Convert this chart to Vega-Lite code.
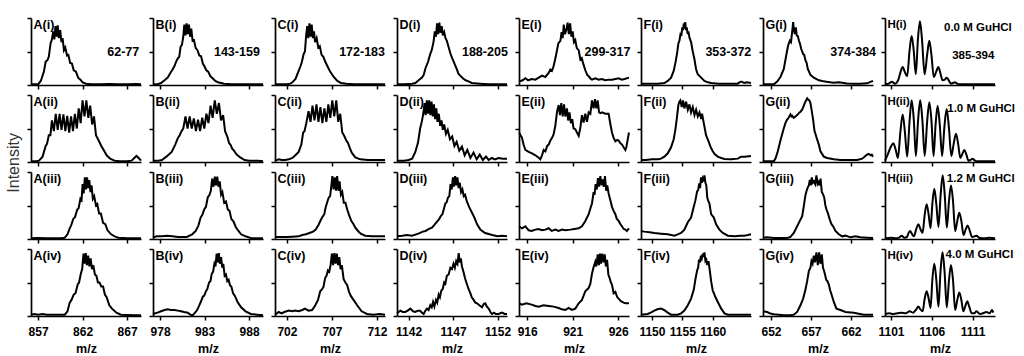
{"$schema":"https://vega.github.io/schema/vega-lite/v6.json","padding":{"left":6,"top":17,"right":2,"bottom":0},"background":"white","title":{"text":"Intensity","orient":"left","anchor":"middle","font":"Liberation Sans","fontSize":16,"fontWeight":"normal","color":"#333","dx":23},"columns":8,"spacing":{"row":10,"column":12},"bounds":"flush",
"config":{"numberFormat":"d","view":{"stroke":null},"axis":{"grid":false,"domainColor":"black","domainWidth":1.7,"tickColor":"black","tickWidth":1.5,"tickSize":4,"labelFont":"Liberation Sans","labelFontWeight":"bold","labelFontSize":12,"labelColor":"black","labelPadding":6,"labelOverlap":false,"labelFlush":false,"titleFont":"Liberation Sans","titleFontWeight":"bold","titleFontSize":12.5,"titleColor":"black","titlePadding":5},"line":{"color":"black","strokeWidth":2,"clip":true},"text":{"font":"Liberation Sans","fontWeight":"bold","fontSize":12.5,"align":"left","baseline":"middle","color":"black"}},
"datasets":{
"L":[{"p":"A1","x":856.48,"y":90,"t":"A(i)"},{"p":"A1","x":864.77,"y":49,"t":"62-77"},{"p":"B1","x":977.48,"y":90,"t":"B(i)"},{"p":"B1","x":984.05,"y":49,"t":"143-159"},{"p":"C1","x":700.95,"y":90,"t":"C(i)"},{"p":"C1","x":707.8,"y":49,"t":"172-183"},{"p":"D1","x":1140.98,"y":90,"t":"D(i)"},{"p":"D1","x":1148.0,"y":49,"t":"188-205"},{"p":"E1","x":915.37,"y":90,"t":"E(i)"},{"p":"E1","x":922.3,"y":49,"t":"299-317"},{"p":"F1","x":1148.61,"y":90,"t":"F(i)"},{"p":"F1","x":1158.8,"y":49,"t":"353-372"},{"p":"G1","x":651.31,"y":90,"t":"G(i)"},{"p":"G1","x":659.4,"y":49,"t":"374-384"},{"p":"H1","x":1100.56,"y":90,"t":"H(i)"},{"p":"H1","x":1107.5,"y":85,"t":"0.0 M GuHCl"},{"p":"H1","x":1108.5,"y":44,"t":"385-394"},
{"p":"A2","x":856.48,"y":90,"t":"A(ii)"},{"p":"B2","x":977.48,"y":90,"t":"B(ii)"},{"p":"C2","x":700.95,"y":90,"t":"C(ii)"},{"p":"D2","x":1140.98,"y":90,"t":"D(ii)"},{"p":"E2","x":915.37,"y":90,"t":"E(ii)"},{"p":"F2","x":1148.61,"y":90,"t":"F(ii)"},{"p":"G2","x":651.31,"y":90,"t":"G(ii)"},{"p":"H2","x":1100.56,"y":90,"t":"H(ii)"},{"p":"H2","x":1107.9,"y":79,"t":"1.0 M GuHCl"},
{"p":"A3","x":856.48,"y":90,"t":"A(iii)"},{"p":"B3","x":977.48,"y":90,"t":"B(iii)"},{"p":"C3","x":700.95,"y":90,"t":"C(iii)"},{"p":"D3","x":1140.98,"y":90,"t":"D(iii)"},{"p":"E3","x":915.37,"y":90,"t":"E(iii)"},{"p":"F3","x":1148.61,"y":90,"t":"F(iii)"},{"p":"G3","x":651.31,"y":90,"t":"G(iii)"},{"p":"H3","x":1100.56,"y":90,"t":"H(iii)"},{"p":"H3","x":1107.85,"y":90,"t":"1.2 M GuHCl"},
{"p":"A4","x":856.48,"y":90,"t":"A(iv)"},{"p":"B4","x":977.48,"y":90,"t":"B(iv)"},{"p":"C4","x":700.95,"y":90,"t":"C(iv)"},{"p":"D4","x":1140.98,"y":90,"t":"D(iv)"},{"p":"E4","x":915.37,"y":90,"t":"E(iv)"},{"p":"F4","x":1148.61,"y":90,"t":"F(iv)"},{"p":"G4","x":651.31,"y":90,"t":"G(iv)"},{"p":"H4","x":1100.56,"y":90,"t":"H(iv)"},{"p":"H4","x":1107.7,"y":91,"t":"4.0 M GuHCl"}],
"A1":[{"x":856.2,"y":1},{"x":856.7,"y":1},{"x":857.0,"y":1},{"x":857.3,"y":6},{"x":857.65,"y":20},{"x":857.85,"y":35},{"x":858.05,"y":37},{"x":858.2,"y":42},{"x":858.4,"y":62},{"x":858.55,"y":68},{"x":858.7,"y":80},{"x":858.82,"y":68},{"x":858.95,"y":88},{"x":859.08,"y":72},{"x":859.2,"y":89},{"x":859.33,"y":70},{"x":859.48,"y":82},{"x":859.62,"y":64},{"x":859.75,"y":70},{"x":859.9,"y":52},{"x":860.05,"y":56},{"x":860.25,"y":44},{"x":860.4,"y":45},{"x":860.6,"y":33},{"x":860.8,"y":32},{"x":861.0,"y":22},{"x":861.25,"y":20},{"x":861.5,"y":11},{"x":861.75,"y":8},{"x":862.0,"y":4},{"x":862.4,"y":2},{"x":863,"y":1},{"x":864,"y":1},{"x":865,"y":1.5},{"x":866,"y":1},{"x":867,"y":1},{"x":868,"y":1.5},{"x":868.56,"y":1}],
"A2":[{"x":856.2,"y":1},{"x":856.8,"y":1},{"x":857.1,"y":2},{"x":857.5,"y":8},{"x":857.85,"y":24},{"x":858.0,"y":27},{"x":858.2,"y":40},{"x":858.38,"y":40},{"x":858.55,"y":62},{"x":858.77,"y":46},{"x":858.98,"y":72},{"x":859.2,"y":48},{"x":859.41,"y":72},{"x":859.63,"y":48},{"x":859.84,"y":71},{"x":860.06,"y":46},{"x":860.27,"y":69},{"x":860.49,"y":44},{"x":860.7,"y":68},{"x":860.92,"y":46},{"x":861.13,"y":72},{"x":861.35,"y":50},{"x":861.56,"y":80},{"x":861.78,"y":58},{"x":861.99,"y":92},{"x":862.21,"y":68},{"x":862.42,"y":92},{"x":862.64,"y":66},{"x":862.85,"y":84},{"x":863.07,"y":56},{"x":863.28,"y":68},{"x":863.5,"y":40},{"x":863.8,"y":32},{"x":864.1,"y":24},{"x":864.4,"y":17},{"x":864.7,"y":10},{"x":865.1,"y":5},{"x":865.6,"y":2},{"x":866.2,"y":1},{"x":867.0,"y":1},{"x":867.5,"y":2},{"x":867.8,"y":6},{"x":868.05,"y":9},{"x":868.3,"y":6},{"x":868.56,"y":2}],
"A3":[{"x":856.2,"y":1},{"x":857,"y":1.5},{"x":858,"y":1},{"x":859,"y":1},{"x":859.6,"y":1},{"x":860.0,"y":2},{"x":860.3,"y":7},{"x":860.55,"y":16},{"x":860.7,"y":20},{"x":860.95,"y":30},{"x":861.15,"y":33},{"x":861.4,"y":44},{"x":861.55,"y":46},{"x":861.75,"y":60},{"x":861.88,"y":58},{"x":862.0,"y":82},{"x":862.12,"y":68},{"x":862.25,"y":92},{"x":862.38,"y":74},{"x":862.5,"y":92},{"x":862.62,"y":76},{"x":862.75,"y":88},{"x":862.88,"y":70},{"x":863.0,"y":80},{"x":863.15,"y":60},{"x":863.3,"y":64},{"x":863.5,"y":50},{"x":863.65,"y":52},{"x":863.85,"y":38},{"x":864.05,"y":38},{"x":864.3,"y":24},{"x":864.55,"y":22},{"x":864.8,"y":13},{"x":865.2,"y":7},{"x":865.6,"y":4},{"x":866.0,"y":2},{"x":867,"y":1},{"x":868,"y":1},{"x":868.56,"y":1}],
"A4":[{"x":856.2,"y":2},{"x":856.6,"y":3},{"x":857.0,"y":2},{"x":857.5,"y":3},{"x":858,"y":2},{"x":859,"y":2},{"x":860.0,"y":2},{"x":860.3,"y":7},{"x":860.55,"y":20},{"x":860.75,"y":24},{"x":861.0,"y":32},{"x":861.2,"y":34},{"x":861.45,"y":47},{"x":861.6,"y":50},{"x":861.8,"y":63},{"x":861.95,"y":70},{"x":862.1,"y":93},{"x":862.22,"y":78},{"x":862.35,"y":94},{"x":862.48,"y":76},{"x":862.62,"y":90},{"x":862.76,"y":74},{"x":862.9,"y":86},{"x":863.05,"y":70},{"x":863.2,"y":76},{"x":863.38,"y":62},{"x":863.55,"y":60},{"x":863.72,"y":50},{"x":863.9,"y":50},{"x":864.1,"y":44},{"x":864.3,"y":44},{"x":864.5,"y":32},{"x":864.7,"y":28},{"x":865.0,"y":16},{"x":865.3,"y":11},{"x":865.8,"y":5},{"x":866.3,"y":2},{"x":867,"y":1.5},{"x":868,"y":1},{"x":868.56,"y":1}],
"B1":[{"x":977.2,"y":1},{"x":977.7,"y":1},{"x":978.1,"y":3},{"x":978.5,"y":7},{"x":978.85,"y":11},{"x":979.15,"y":18},{"x":979.4,"y":23},{"x":979.6,"y":28},{"x":979.8,"y":35},{"x":980.0,"y":40},{"x":980.15,"y":42},{"x":980.3,"y":57},{"x":980.45,"y":60},{"x":980.6,"y":72},{"x":980.72,"y":90},{"x":980.85,"y":74},{"x":980.98,"y":92},{"x":981.1,"y":76},{"x":981.24,"y":90},{"x":981.37,"y":72},{"x":981.5,"y":84},{"x":981.65,"y":66},{"x":981.8,"y":67},{"x":982.0,"y":55},{"x":982.2,"y":52},{"x":982.4,"y":44},{"x":982.6,"y":43},{"x":982.8,"y":32},{"x":982.97,"y":28},{"x":983.2,"y":22},{"x":983.4,"y":20},{"x":983.65,"y":13},{"x":983.9,"y":10},{"x":984.2,"y":6},{"x":984.5,"y":4},{"x":985.2,"y":2},{"x":986,"y":1},{"x":987,"y":1},{"x":988,"y":1},{"x":989.56,"y":1}],
"B2":[{"x":977.2,"y":2},{"x":977.8,"y":2},{"x":978.2,"y":3},{"x":978.7,"y":8},{"x":979.3,"y":15},{"x":979.7,"y":26},{"x":980.0,"y":36},{"x":980.2,"y":40},{"x":980.4,"y":46},{"x":980.6,"y":50},{"x":980.85,"y":68},{"x":981.08,"y":50},{"x":981.32,"y":68},{"x":981.55,"y":50},{"x":981.79,"y":65},{"x":982.02,"y":46},{"x":982.26,"y":63},{"x":982.49,"y":46},{"x":982.73,"y":66},{"x":982.96,"y":50},{"x":983.2,"y":72},{"x":983.43,"y":58},{"x":983.67,"y":84},{"x":983.9,"y":66},{"x":984.14,"y":92},{"x":984.37,"y":72},{"x":984.61,"y":88},{"x":984.84,"y":62},{"x":985.08,"y":70},{"x":985.3,"y":46},{"x":985.55,"y":38},{"x":985.75,"y":28},{"x":985.9,"y":26},{"x":986.1,"y":20},{"x":986.3,"y":17},{"x":986.6,"y":11},{"x":987.0,"y":7},{"x":987.5,"y":3},{"x":988,"y":2},{"x":989,"y":2},{"x":989.56,"y":1}],
"B3":[{"x":977.2,"y":2},{"x":977.6,"y":4},{"x":978.2,"y":4},{"x":978.8,"y":5},{"x":979.4,"y":4},{"x":980.0,"y":3},{"x":980.6,"y":3},{"x":981.0,"y":3},{"x":981.6,"y":7},{"x":982.0,"y":12},{"x":982.3,"y":20},{"x":982.55,"y":32},{"x":982.75,"y":36},{"x":982.95,"y":44},{"x":983.15,"y":48},{"x":983.35,"y":62},{"x":983.55,"y":66},{"x":983.7,"y":72},{"x":983.85,"y":90},{"x":984.0,"y":78},{"x":984.15,"y":93},{"x":984.28,"y":80},{"x":984.42,"y":93},{"x":984.55,"y":78},{"x":984.7,"y":86},{"x":984.85,"y":66},{"x":985.0,"y":70},{"x":985.2,"y":54},{"x":985.4,"y":56},{"x":985.6,"y":44},{"x":985.8,"y":42},{"x":986.0,"y":30},{"x":986.25,"y":26},{"x":986.5,"y":18},{"x":986.8,"y":12},{"x":987.1,"y":7},{"x":987.6,"y":4},{"x":988.3,"y":1},{"x":989,"y":1},{"x":989.56,"y":1}],
"B4":[{"x":977.2,"y":3},{"x":977.7,"y":5},{"x":978.1,"y":7},{"x":978.5,"y":9},{"x":978.85,"y":10},{"x":979.2,"y":9},{"x":979.6,"y":9},{"x":980.0,"y":8},{"x":980.35,"y":7},{"x":980.7,"y":6},{"x":981.1,"y":5},{"x":981.4,"y":2},{"x":981.65,"y":1},{"x":982.0,"y":6},{"x":982.2,"y":10},{"x":982.4,"y":16},{"x":982.6,"y":22},{"x":982.8,"y":29},{"x":982.95,"y":30},{"x":983.15,"y":37},{"x":983.3,"y":40},{"x":983.5,"y":50},{"x":983.65,"y":52},{"x":983.8,"y":63},{"x":983.95,"y":66},{"x":984.1,"y":78},{"x":984.22,"y":74},{"x":984.35,"y":93},{"x":984.48,"y":80},{"x":984.6,"y":94},{"x":984.72,"y":78},{"x":984.85,"y":88},{"x":984.98,"y":72},{"x":985.1,"y":78},{"x":985.25,"y":60},{"x":985.4,"y":62},{"x":985.55,"y":52},{"x":985.7,"y":54},{"x":985.85,"y":46},{"x":986.0,"y":44},{"x":986.2,"y":34},{"x":986.4,"y":30},{"x":986.7,"y":21},{"x":987.1,"y":13},{"x":987.6,"y":7},{"x":988.2,"y":3},{"x":988.9,"y":2},{"x":989.56,"y":1}],
"C1":[{"x":700.67,"y":1},{"x":701.3,"y":1},{"x":702.0,"y":1},{"x":702.37,"y":2},{"x":702.6,"y":4},{"x":702.95,"y":9},{"x":703.3,"y":21},{"x":703.5,"y":28},{"x":703.65,"y":34},{"x":703.85,"y":46},{"x":704.0,"y":50},{"x":704.12,"y":72},{"x":704.25,"y":88},{"x":704.37,"y":70},{"x":704.5,"y":92},{"x":704.62,"y":72},{"x":704.75,"y":90},{"x":704.88,"y":70},{"x":705.0,"y":80},{"x":705.13,"y":64},{"x":705.3,"y":70},{"x":705.48,"y":56},{"x":705.65,"y":58},{"x":705.85,"y":45},{"x":706.05,"y":42},{"x":706.25,"y":35},{"x":706.5,"y":28},{"x":706.8,"y":20},{"x":707.2,"y":12},{"x":707.6,"y":6},{"x":708.0,"y":3},{"x":708.6,"y":2},{"x":709.5,"y":1},{"x":710.5,"y":1},{"x":711.5,"y":1},{"x":712.9,"y":1}],
"C2":[{"x":700.67,"y":2},{"x":701.1,"y":4},{"x":701.4,"y":3},{"x":701.8,"y":3},{"x":702.2,"y":4},{"x":702.6,"y":6},{"x":702.93,"y":10},{"x":703.3,"y":15},{"x":703.6,"y":26},{"x":703.8,"y":44},{"x":703.95,"y":46},{"x":704.15,"y":58},{"x":704.4,"y":76},{"x":704.62,"y":60},{"x":704.84,"y":84},{"x":705.06,"y":62},{"x":705.28,"y":86},{"x":705.5,"y":60},{"x":705.72,"y":82},{"x":705.94,"y":58},{"x":706.16,"y":80},{"x":706.38,"y":60},{"x":706.6,"y":86},{"x":706.82,"y":66},{"x":707.04,"y":92},{"x":707.26,"y":68},{"x":707.48,"y":92},{"x":707.7,"y":60},{"x":707.92,"y":72},{"x":708.15,"y":44},{"x":708.4,"y":38},{"x":708.6,"y":32},{"x":708.8,"y":28},{"x":708.95,"y":22},{"x":709.2,"y":14},{"x":709.6,"y":7},{"x":710.15,"y":4},{"x":711,"y":3},{"x":712,"y":3},{"x":712.9,"y":3}],
"C3":[{"x":700.67,"y":3},{"x":701.3,"y":3},{"x":702,"y":3},{"x":702.6,"y":3.5},{"x":703.3,"y":4},{"x":703.7,"y":6},{"x":704.1,"y":7},{"x":704.5,"y":9},{"x":704.9,"y":11},{"x":705.2,"y":14},{"x":705.5,"y":21},{"x":705.75,"y":28},{"x":705.95,"y":33},{"x":706.15,"y":37},{"x":706.3,"y":47},{"x":706.5,"y":56},{"x":706.65,"y":62},{"x":706.8,"y":64},{"x":706.92,"y":78},{"x":707.05,"y":94},{"x":707.18,"y":74},{"x":707.32,"y":92},{"x":707.45,"y":72},{"x":707.58,"y":94},{"x":707.72,"y":72},{"x":707.85,"y":86},{"x":708.0,"y":66},{"x":708.15,"y":70},{"x":708.32,"y":54},{"x":708.5,"y":54},{"x":708.7,"y":44},{"x":708.9,"y":36},{"x":709.15,"y":27},{"x":709.4,"y":22},{"x":709.6,"y":17},{"x":709.9,"y":12},{"x":710.2,"y":8},{"x":710.7,"y":5},{"x":711.5,"y":4},{"x":712.2,"y":4},{"x":712.9,"y":4}],
"C4":[{"x":700.67,"y":2},{"x":701.1,"y":6},{"x":701.4,"y":4},{"x":701.7,"y":6},{"x":702.2,"y":8},{"x":702.6,"y":7},{"x":702.9,"y":8},{"x":703.3,"y":7},{"x":703.7,"y":9},{"x":704.0,"y":11},{"x":704.4,"y":8},{"x":704.8,"y":9},{"x":705.15,"y":16},{"x":705.45,"y":24},{"x":705.7,"y":37},{"x":705.9,"y":40},{"x":706.05,"y":43},{"x":706.25,"y":57},{"x":706.4,"y":60},{"x":706.55,"y":68},{"x":706.7,"y":66},{"x":706.85,"y":76},{"x":707.0,"y":93},{"x":707.13,"y":76},{"x":707.27,"y":94},{"x":707.4,"y":78},{"x":707.54,"y":93},{"x":707.68,"y":76},{"x":707.82,"y":88},{"x":707.96,"y":70},{"x":708.1,"y":76},{"x":708.3,"y":55},{"x":708.5,"y":50},{"x":708.7,"y":46},{"x":708.9,"y":36},{"x":709.1,"y":30},{"x":709.4,"y":24},{"x":709.8,"y":16},{"x":710.3,"y":7},{"x":710.9,"y":3},{"x":711.6,"y":2},{"x":712.3,"y":3},{"x":712.9,"y":2}],
"D1":[{"x":1140.7,"y":1},{"x":1141.5,"y":1},{"x":1142.4,"y":2},{"x":1142.76,"y":3},{"x":1143.13,"y":7},{"x":1143.5,"y":11},{"x":1143.7,"y":15},{"x":1143.9,"y":25},{"x":1144.2,"y":35},{"x":1144.45,"y":47},{"x":1144.6,"y":52},{"x":1144.8,"y":64},{"x":1144.95,"y":80},{"x":1145.08,"y":72},{"x":1145.2,"y":92},{"x":1145.33,"y":76},{"x":1145.46,"y":93},{"x":1145.58,"y":78},{"x":1145.72,"y":88},{"x":1145.85,"y":74},{"x":1146.0,"y":79},{"x":1146.15,"y":70},{"x":1146.3,"y":66},{"x":1146.45,"y":59},{"x":1146.7,"y":47},{"x":1146.9,"y":40},{"x":1147.07,"y":35},{"x":1147.25,"y":29},{"x":1147.44,"y":23},{"x":1147.6,"y":17},{"x":1147.8,"y":14},{"x":1148.1,"y":10},{"x":1148.4,"y":7},{"x":1148.8,"y":5},{"x":1149.1,"y":3},{"x":1150,"y":2},{"x":1151,"y":1},{"x":1152,"y":1},{"x":1153.06,"y":1}],
"D2":[{"x":1140.7,"y":2},{"x":1141.5,"y":2},{"x":1142.0,"y":3},{"x":1142.4,"y":5},{"x":1142.76,"y":15},{"x":1143.06,"y":29},{"x":1143.3,"y":50},{"x":1143.5,"y":61},{"x":1143.65,"y":72},{"x":1143.8,"y":88},{"x":1143.92,"y":70},{"x":1144.05,"y":92},{"x":1144.18,"y":72},{"x":1144.32,"y":92},{"x":1144.45,"y":70},{"x":1144.58,"y":90},{"x":1144.72,"y":68},{"x":1144.85,"y":86},{"x":1144.98,"y":64},{"x":1145.12,"y":80},{"x":1145.25,"y":60},{"x":1145.4,"y":72},{"x":1145.55,"y":54},{"x":1145.7,"y":62},{"x":1145.85,"y":48},{"x":1146.0,"y":56},{"x":1146.2,"y":42},{"x":1146.4,"y":48},{"x":1146.65,"y":34},{"x":1146.9,"y":38},{"x":1147.15,"y":24},{"x":1147.4,"y":30},{"x":1147.7,"y":17},{"x":1148.0,"y":23},{"x":1148.3,"y":10},{"x":1148.6,"y":18},{"x":1148.95,"y":6},{"x":1149.3,"y":14},{"x":1149.65,"y":4},{"x":1150.0,"y":11},{"x":1150.35,"y":3},{"x":1150.7,"y":8},{"x":1151.0,"y":3},{"x":1151.35,"y":6},{"x":1151.7,"y":4},{"x":1152.1,"y":6},{"x":1152.6,"y":5},{"x":1153.06,"y":5}],
"D3":[{"x":1140.7,"y":4},{"x":1141.3,"y":5},{"x":1141.8,"y":6},{"x":1142.4,"y":5},{"x":1143.1,"y":8},{"x":1143.6,"y":11},{"x":1143.9,"y":12},{"x":1144.3,"y":15},{"x":1144.63,"y":17},{"x":1144.9,"y":21},{"x":1145.2,"y":26},{"x":1145.45,"y":30},{"x":1145.6,"y":34},{"x":1145.8,"y":37},{"x":1145.95,"y":44},{"x":1146.13,"y":53},{"x":1146.28,"y":55},{"x":1146.43,"y":62},{"x":1146.58,"y":64},{"x":1146.72,"y":82},{"x":1146.85,"y":74},{"x":1146.98,"y":92},{"x":1147.1,"y":78},{"x":1147.23,"y":94},{"x":1147.36,"y":80},{"x":1147.49,"y":92},{"x":1147.62,"y":76},{"x":1147.75,"y":84},{"x":1147.9,"y":70},{"x":1148.05,"y":74},{"x":1148.2,"y":64},{"x":1148.35,"y":66},{"x":1148.55,"y":56},{"x":1148.8,"y":48},{"x":1149.1,"y":40},{"x":1149.4,"y":32},{"x":1149.7,"y":22},{"x":1150.06,"y":14},{"x":1150.6,"y":9},{"x":1151.4,"y":6},{"x":1152.0,"y":4},{"x":1152.5,"y":5},{"x":1153.06,"y":4}],
"D4":[{"x":1140.7,"y":4},{"x":1141.07,"y":8},{"x":1141.35,"y":6},{"x":1141.64,"y":6},{"x":1141.9,"y":8},{"x":1142.2,"y":11},{"x":1142.5,"y":7},{"x":1142.76,"y":6},{"x":1143.05,"y":8},{"x":1143.3,"y":8},{"x":1143.5,"y":5},{"x":1143.7,"y":3},{"x":1143.9,"y":8},{"x":1144.07,"y":11},{"x":1144.25,"y":9},{"x":1144.45,"y":16},{"x":1144.6,"y":13},{"x":1144.75,"y":21},{"x":1144.9,"y":14},{"x":1145.08,"y":24},{"x":1145.22,"y":20},{"x":1145.38,"y":32},{"x":1145.52,"y":28},{"x":1145.68,"y":38},{"x":1145.83,"y":40},{"x":1146.0,"y":50},{"x":1146.13,"y":48},{"x":1146.3,"y":60},{"x":1146.5,"y":62},{"x":1146.7,"y":72},{"x":1146.88,"y":70},{"x":1147.05,"y":78},{"x":1147.2,"y":72},{"x":1147.35,"y":82},{"x":1147.5,"y":78},{"x":1147.63,"y":94},{"x":1147.75,"y":80},{"x":1147.87,"y":86},{"x":1148.0,"y":74},{"x":1148.19,"y":65},{"x":1148.35,"y":56},{"x":1148.57,"y":47},{"x":1148.75,"y":40},{"x":1148.94,"y":34},{"x":1149.1,"y":28},{"x":1149.31,"y":24},{"x":1149.5,"y":20},{"x":1149.7,"y":19},{"x":1149.95,"y":16},{"x":1150.25,"y":13},{"x":1150.45,"y":18},{"x":1150.62,"y":19},{"x":1150.8,"y":14},{"x":1151.0,"y":11},{"x":1151.2,"y":6},{"x":1151.37,"y":3},{"x":1151.6,"y":5},{"x":1151.8,"y":3},{"x":1152.1,"y":3},{"x":1152.5,"y":5},{"x":1152.8,"y":3},{"x":1153.06,"y":3}],
"E1":[{"x":915.1,"y":5},{"x":915.5,"y":7},{"x":915.8,"y":10},{"x":916.1,"y":7},{"x":916.5,"y":9},{"x":916.9,"y":8},{"x":917.26,"y":11},{"x":917.63,"y":14},{"x":917.99,"y":12},{"x":918.36,"y":18},{"x":918.54,"y":23},{"x":918.72,"y":21},{"x":918.9,"y":28},{"x":919.1,"y":40},{"x":919.28,"y":52},{"x":919.42,"y":62},{"x":919.53,"y":64},{"x":919.65,"y":66},{"x":919.78,"y":79},{"x":919.9,"y":70},{"x":920.02,"y":90},{"x":920.15,"y":76},{"x":920.3,"y":82},{"x":920.45,"y":93},{"x":920.58,"y":76},{"x":920.72,"y":92},{"x":920.86,"y":72},{"x":921.0,"y":80},{"x":921.14,"y":64},{"x":921.29,"y":67},{"x":921.45,"y":55},{"x":921.66,"y":52},{"x":921.84,"y":38},{"x":922.0,"y":40},{"x":922.2,"y":30},{"x":922.39,"y":22},{"x":922.6,"y":15},{"x":922.76,"y":13},{"x":923.0,"y":9},{"x":923.12,"y":8},{"x":923.5,"y":10},{"x":923.85,"y":8},{"x":924.2,"y":9},{"x":924.59,"y":7},{"x":925.0,"y":8},{"x":925.32,"y":8},{"x":925.7,"y":9},{"x":926.05,"y":10},{"x":926.4,"y":8},{"x":926.7,"y":9},{"x":927.19,"y":11}],
"E2":[{"x":915.1,"y":44},{"x":915.43,"y":36},{"x":915.6,"y":26},{"x":915.8,"y":18},{"x":916.16,"y":15},{"x":916.53,"y":13},{"x":916.9,"y":10},{"x":917.2,"y":7},{"x":917.44,"y":4},{"x":917.63,"y":10},{"x":917.81,"y":18},{"x":918.0,"y":16},{"x":918.2,"y":24},{"x":918.36,"y":26},{"x":918.55,"y":32},{"x":918.73,"y":36},{"x":918.9,"y":41},{"x":919.09,"y":54},{"x":919.28,"y":75},{"x":919.46,"y":85},{"x":919.6,"y":70},{"x":919.75,"y":88},{"x":919.9,"y":68},{"x":920.05,"y":86},{"x":920.19,"y":68},{"x":920.37,"y":80},{"x":920.5,"y":62},{"x":920.65,"y":74},{"x":920.8,"y":58},{"x":920.95,"y":64},{"x":921.1,"y":50},{"x":921.29,"y":49},{"x":921.47,"y":44},{"x":921.66,"y":39},{"x":921.84,"y":51},{"x":922.02,"y":70},{"x":922.2,"y":59},{"x":922.39,"y":72},{"x":922.57,"y":60},{"x":922.76,"y":74},{"x":922.94,"y":72},{"x":923.12,"y":92},{"x":923.3,"y":80},{"x":923.45,"y":94},{"x":923.6,"y":80},{"x":923.75,"y":92},{"x":923.9,"y":74},{"x":924.04,"y":73},{"x":924.22,"y":74},{"x":924.59,"y":72},{"x":924.95,"y":72},{"x":925.15,"y":56},{"x":925.32,"y":44},{"x":925.5,"y":36},{"x":925.69,"y":31},{"x":925.9,"y":33},{"x":926.05,"y":32},{"x":926.25,"y":28},{"x":926.42,"y":26},{"x":926.6,"y":22},{"x":926.79,"y":18},{"x":926.9,"y":22},{"x":927.0,"y":30},{"x":927.19,"y":44}],
"E3":[{"x":915.1,"y":19},{"x":915.43,"y":16},{"x":915.8,"y":19},{"x":916.16,"y":13},{"x":916.5,"y":12},{"x":916.9,"y":14},{"x":917.25,"y":15},{"x":917.63,"y":13},{"x":918.0,"y":14},{"x":918.36,"y":16},{"x":918.7,"y":12},{"x":919.09,"y":14},{"x":919.45,"y":12},{"x":919.83,"y":14},{"x":920.2,"y":13},{"x":920.74,"y":14},{"x":921.2,"y":15},{"x":921.66,"y":16},{"x":922.02,"y":19},{"x":922.39,"y":27},{"x":922.76,"y":37},{"x":923.0,"y":48},{"x":923.12,"y":53},{"x":923.3,"y":70},{"x":923.4,"y":66},{"x":923.52,"y":82},{"x":923.65,"y":74},{"x":923.78,"y":91},{"x":923.9,"y":78},{"x":924.04,"y":94},{"x":924.17,"y":80},{"x":924.3,"y":89},{"x":924.42,"y":78},{"x":924.55,"y":94},{"x":924.68,"y":72},{"x":924.8,"y":80},{"x":924.95,"y":68},{"x":925.14,"y":58},{"x":925.32,"y":48},{"x":925.5,"y":42},{"x":925.69,"y":37},{"x":925.85,"y":30},{"x":926.05,"y":27},{"x":926.25,"y":22},{"x":926.42,"y":19},{"x":926.6,"y":15},{"x":926.79,"y":14},{"x":926.95,"y":12},{"x":927.19,"y":16}],
"E4":[{"x":915.1,"y":19},{"x":915.43,"y":17},{"x":915.9,"y":19},{"x":916.5,"y":17},{"x":916.9,"y":15},{"x":917.26,"y":14},{"x":917.8,"y":16},{"x":918.36,"y":15},{"x":918.9,"y":14},{"x":919.46,"y":12},{"x":919.8,"y":10},{"x":920.2,"y":9},{"x":920.56,"y":12},{"x":920.92,"y":9},{"x":921.29,"y":11},{"x":921.66,"y":19},{"x":922.02,"y":24},{"x":922.39,"y":37},{"x":922.76,"y":42},{"x":922.94,"y":48},{"x":923.12,"y":63},{"x":923.3,"y":73},{"x":923.49,"y":81},{"x":923.6,"y":74},{"x":923.75,"y":92},{"x":923.88,"y":76},{"x":924.0,"y":93},{"x":924.12,"y":78},{"x":924.25,"y":93},{"x":924.4,"y":80},{"x":924.52,"y":92},{"x":924.65,"y":74},{"x":924.78,"y":84},{"x":924.92,"y":62},{"x":925.05,"y":57},{"x":925.2,"y":50},{"x":925.32,"y":47},{"x":925.5,"y":34},{"x":925.69,"y":36},{"x":925.9,"y":28},{"x":926.05,"y":26},{"x":926.3,"y":22},{"x":926.6,"y":20},{"x":926.8,"y":19},{"x":927.19,"y":19}],
"F1":[{"x":1148.2,"y":2},{"x":1149,"y":2},{"x":1150,"y":2},{"x":1151,"y":2},{"x":1152.05,"y":3},{"x":1152.6,"y":6},{"x":1153.15,"y":11},{"x":1153.58,"y":21},{"x":1153.86,"y":33},{"x":1154.13,"y":47},{"x":1154.35,"y":62},{"x":1154.52,"y":66},{"x":1154.7,"y":76},{"x":1154.85,"y":75},{"x":1155.0,"y":86},{"x":1155.12,"y":82},{"x":1155.25,"y":92},{"x":1155.36,"y":84},{"x":1155.48,"y":94},{"x":1155.6,"y":82},{"x":1155.73,"y":86},{"x":1155.88,"y":76},{"x":1156.0,"y":80},{"x":1156.17,"y":71},{"x":1156.44,"y":64},{"x":1156.72,"y":50},{"x":1157.0,"y":38},{"x":1157.27,"y":23},{"x":1157.54,"y":16},{"x":1158.1,"y":11},{"x":1158.64,"y":6},{"x":1159.2,"y":4},{"x":1159.74,"y":3},{"x":1161,"y":2},{"x":1162,"y":2},{"x":1163,"y":2},{"x":1164.1,"y":2},{"x":1164.4,"y":4},{"x":1164.7,"y":5},{"x":1165.2,"y":3},{"x":1165.6,"y":4},{"x":1166.3,"y":3}],
"F2":[{"x":1148.2,"y":3},{"x":1149,"y":3},{"x":1150,"y":4},{"x":1151,"y":4},{"x":1151.5,"y":5},{"x":1152.05,"y":8},{"x":1152.6,"y":13},{"x":1153.15,"y":22},{"x":1153.58,"y":34},{"x":1153.85,"y":48},{"x":1154.08,"y":64},{"x":1154.35,"y":85},{"x":1154.52,"y":90},{"x":1154.68,"y":92},{"x":1154.9,"y":82},{"x":1155.12,"y":92},{"x":1155.34,"y":80},{"x":1155.62,"y":90},{"x":1155.9,"y":78},{"x":1156.17,"y":86},{"x":1156.44,"y":74},{"x":1156.72,"y":82},{"x":1157.0,"y":70},{"x":1157.27,"y":78},{"x":1157.54,"y":68},{"x":1157.82,"y":74},{"x":1158.1,"y":64},{"x":1158.25,"y":72},{"x":1158.53,"y":58},{"x":1158.9,"y":40},{"x":1159.3,"y":31},{"x":1159.63,"y":23},{"x":1160.0,"y":16},{"x":1160.4,"y":11},{"x":1160.84,"y":8},{"x":1161.4,"y":6},{"x":1161.94,"y":4.6},{"x":1163.04,"y":4},{"x":1164.13,"y":5},{"x":1164.68,"y":8},{"x":1165.3,"y":8},{"x":1166.3,"y":9}],
"F3":[{"x":1148.2,"y":12},{"x":1148.75,"y":11},{"x":1149.6,"y":10},{"x":1150.4,"y":9},{"x":1151.5,"y":8},{"x":1152.6,"y":7},{"x":1153.7,"y":5},{"x":1154.24,"y":7},{"x":1154.8,"y":9},{"x":1155.34,"y":14},{"x":1155.9,"y":25},{"x":1156.44,"y":32},{"x":1156.88,"y":48},{"x":1157.16,"y":58},{"x":1157.43,"y":71},{"x":1157.6,"y":73},{"x":1157.78,"y":83},{"x":1157.92,"y":76},{"x":1158.08,"y":92},{"x":1158.22,"y":84},{"x":1158.36,"y":90},{"x":1158.5,"y":86},{"x":1158.64,"y":95},{"x":1158.8,"y":84},{"x":1158.95,"y":80},{"x":1159.1,"y":62},{"x":1159.3,"y":56},{"x":1159.46,"y":53},{"x":1159.74,"y":37},{"x":1160.0,"y":34},{"x":1160.18,"y":32},{"x":1160.56,"y":22},{"x":1161.1,"y":14},{"x":1161.66,"y":9},{"x":1162.5,"y":5},{"x":1163.6,"y":4},{"x":1164.5,"y":5},{"x":1165.2,"y":5},{"x":1165.8,"y":6},{"x":1166.3,"y":7}],
"F4":[{"x":1148.2,"y":2},{"x":1149.3,"y":3},{"x":1149.8,"y":5},{"x":1150.4,"y":8},{"x":1150.9,"y":10},{"x":1151.5,"y":11},{"x":1152.0,"y":9},{"x":1152.6,"y":5},{"x":1153.15,"y":2},{"x":1154.24,"y":2},{"x":1154.8,"y":4},{"x":1155.34,"y":8},{"x":1155.9,"y":16},{"x":1156.44,"y":26},{"x":1156.88,"y":39},{"x":1157.16,"y":55},{"x":1157.43,"y":68},{"x":1157.6,"y":72},{"x":1157.75,"y":84},{"x":1157.9,"y":80},{"x":1158.05,"y":90},{"x":1158.2,"y":86},{"x":1158.36,"y":93},{"x":1158.5,"y":88},{"x":1158.64,"y":95},{"x":1158.8,"y":82},{"x":1158.95,"y":84},{"x":1159.1,"y":76},{"x":1159.3,"y":82},{"x":1159.46,"y":72},{"x":1159.74,"y":52},{"x":1160.0,"y":38},{"x":1160.2,"y":34},{"x":1160.4,"y":29},{"x":1160.84,"y":21},{"x":1161.4,"y":11},{"x":1161.94,"y":4},{"x":1162.5,"y":2},{"x":1163.5,"y":2},{"x":1164.5,"y":2},{"x":1165.5,"y":2},{"x":1166.3,"y":2}],
"G1":[{"x":651.0,"y":1},{"x":651.8,"y":1},{"x":652.35,"y":1},{"x":652.77,"y":5},{"x":653.18,"y":12},{"x":653.6,"y":24},{"x":653.9,"y":44},{"x":654.14,"y":59},{"x":654.35,"y":66},{"x":654.5,"y":64},{"x":654.68,"y":83},{"x":654.77,"y":94},{"x":654.88,"y":80},{"x":654.98,"y":76},{"x":655.1,"y":86},{"x":655.22,"y":74},{"x":655.35,"y":73},{"x":655.5,"y":66},{"x":655.62,"y":62},{"x":655.77,"y":54},{"x":655.9,"y":50},{"x":656.02,"y":46},{"x":656.15,"y":45},{"x":656.3,"y":37},{"x":656.45,"y":33},{"x":656.6,"y":24},{"x":656.93,"y":15},{"x":657.35,"y":11},{"x":657.98,"y":7},{"x":658.4,"y":6},{"x":658.9,"y":5},{"x":659.4,"y":4},{"x":659.85,"y":3.4},{"x":660.5,"y":4},{"x":661.5,"y":2.4},{"x":662.3,"y":2},{"x":663.2,"y":2},{"x":664.0,"y":2.5},{"x":664.5,"y":5},{"x":664.75,"y":6}],
"G2":[{"x":651.0,"y":1},{"x":651.8,"y":1},{"x":652.35,"y":1},{"x":652.56,"y":5},{"x":652.85,"y":16},{"x":653.18,"y":32},{"x":653.52,"y":47},{"x":653.8,"y":58},{"x":654.0,"y":63},{"x":654.2,"y":66},{"x":654.43,"y":71},{"x":654.55,"y":68},{"x":654.64,"y":69},{"x":654.85,"y":66},{"x":655.06,"y":68},{"x":655.27,"y":70},{"x":655.48,"y":73},{"x":655.68,"y":75},{"x":655.9,"y":78},{"x":656.1,"y":84},{"x":656.3,"y":90},{"x":656.52,"y":95},{"x":656.65,"y":93},{"x":656.8,"y":92},{"x":656.93,"y":88},{"x":657.06,"y":79},{"x":657.27,"y":63},{"x":657.43,"y":47},{"x":657.68,"y":37},{"x":657.98,"y":26},{"x":658.18,"y":16},{"x":658.6,"y":8},{"x":659.02,"y":6},{"x":659.85,"y":4},{"x":660.68,"y":3},{"x":661.93,"y":3},{"x":662.77,"y":3},{"x":663.4,"y":5},{"x":663.8,"y":9},{"x":664.0,"y":11},{"x":664.22,"y":12},{"x":664.45,"y":10},{"x":664.6,"y":11},{"x":664.75,"y":8}],
"G3":[{"x":651.0,"y":2},{"x":651.52,"y":2.5},{"x":652.35,"y":1.5},{"x":653.18,"y":1.5},{"x":654.02,"y":1.5},{"x":654.43,"y":3},{"x":654.85,"y":9},{"x":655.27,"y":19},{"x":655.6,"y":27},{"x":655.9,"y":34},{"x":656.1,"y":49},{"x":656.3,"y":65},{"x":656.45,"y":72},{"x":656.6,"y":77},{"x":656.73,"y":80},{"x":656.85,"y":88},{"x":656.97,"y":80},{"x":657.1,"y":92},{"x":657.23,"y":84},{"x":657.38,"y":86},{"x":657.52,"y":82},{"x":657.68,"y":95},{"x":657.82,"y":82},{"x":657.95,"y":85},{"x":658.08,"y":80},{"x":658.2,"y":90},{"x":658.35,"y":70},{"x":658.5,"y":67},{"x":658.65,"y":62},{"x":658.8,"y":50},{"x":658.93,"y":44},{"x":659.1,"y":39},{"x":659.35,"y":29},{"x":659.56,"y":22},{"x":659.77,"y":19},{"x":660.06,"y":12},{"x":660.48,"y":7},{"x":660.9,"y":4},{"x":661.3,"y":5},{"x":661.93,"y":2.5},{"x":662.56,"y":4},{"x":663.18,"y":2.5},{"x":664.0,"y":2},{"x":664.75,"y":1.5}],
"G4":[{"x":651.0,"y":7},{"x":651.52,"y":6},{"x":651.93,"y":3.6},{"x":652.35,"y":2.5},{"x":652.98,"y":2},{"x":653.6,"y":1},{"x":654.43,"y":1},{"x":654.85,"y":2},{"x":655.27,"y":6},{"x":655.68,"y":16},{"x":656.02,"y":26},{"x":656.3,"y":39},{"x":656.52,"y":52},{"x":656.73,"y":67},{"x":656.93,"y":72},{"x":657.06,"y":82},{"x":657.2,"y":78},{"x":657.35,"y":90},{"x":657.5,"y":80},{"x":657.68,"y":95},{"x":657.85,"y":76},{"x":658.02,"y":95},{"x":658.18,"y":78},{"x":658.35,"y":92},{"x":658.5,"y":72},{"x":658.62,"y":68},{"x":658.75,"y":62},{"x":658.9,"y":54},{"x":659.05,"y":52},{"x":659.23,"y":47},{"x":659.4,"y":38},{"x":659.52,"y":34},{"x":659.85,"y":21},{"x":660.18,"y":11},{"x":660.68,"y":9},{"x":661.3,"y":6},{"x":662.35,"y":5},{"x":663.6,"y":2},{"x":664.75,"y":2}],
"H1":[{"x":1100.26,"y":1},{"x":1100.7,"y":2},{"x":1101.1,"y":5},{"x":1101.5,"y":2},{"x":1101.9,"y":8},{"x":1102.18,"y":20},{"x":1102.43,"y":27},{"x":1102.68,"y":20},{"x":1102.98,"y":13},{"x":1103.28,"y":52},{"x":1103.53,"y":73},{"x":1103.78,"y":52},{"x":1104.04,"y":16},{"x":1104.3,"y":68},{"x":1104.55,"y":95},{"x":1104.8,"y":68},{"x":1105.12,"y":16},{"x":1105.45,"y":47},{"x":1105.7,"y":66},{"x":1105.95,"y":46},{"x":1106.25,"y":12},{"x":1106.55,"y":20},{"x":1106.8,"y":27},{"x":1107.05,"y":18},{"x":1107.32,"y":7},{"x":1107.6,"y":8},{"x":1107.83,"y":11},{"x":1108.08,"y":7},{"x":1108.35,"y":2},{"x":1108.6,"y":3},{"x":1108.85,"y":4},{"x":1109.1,"y":2},{"x":1109.46,"y":1},{"x":1110.5,"y":1},{"x":1111.5,"y":1},{"x":1112.5,"y":1},{"x":1113.76,"y":1}],
"H2":[{"x":1100.26,"y":2},{"x":1100.55,"y":10},{"x":1100.95,"y":22},{"x":1101.28,"y":28},{"x":1101.58,"y":18},{"x":1101.85,"y":6},{"x":1102.15,"y":45},{"x":1102.43,"y":71},{"x":1102.7,"y":45},{"x":1102.98,"y":8},{"x":1103.28,"y":62},{"x":1103.53,"y":92},{"x":1103.8,"y":62},{"x":1104.05,"y":9},{"x":1104.32,"y":62},{"x":1104.58,"y":92},{"x":1104.85,"y":62},{"x":1105.13,"y":9},{"x":1105.43,"y":60},{"x":1105.7,"y":89},{"x":1105.97,"y":60},{"x":1106.22,"y":9},{"x":1106.47,"y":56},{"x":1106.72,"y":84},{"x":1106.98,"y":56},{"x":1107.27,"y":9},{"x":1107.56,"y":54},{"x":1107.83,"y":79},{"x":1108.1,"y":52},{"x":1108.4,"y":9},{"x":1108.7,"y":28},{"x":1108.97,"y":42},{"x":1109.25,"y":26},{"x":1109.5,"y":6},{"x":1109.75,"y":12},{"x":1110.0,"y":18},{"x":1110.25,"y":11},{"x":1110.5,"y":2},{"x":1110.75,"y":3},{"x":1111.0,"y":5},{"x":1111.3,"y":2},{"x":1111.6,"y":1},{"x":1112.5,"y":1},{"x":1113.76,"y":1}],
"H3":[{"x":1100.26,"y":1},{"x":1101.0,"y":2},{"x":1101.6,"y":1},{"x":1102.0,"y":2},{"x":1102.3,"y":5},{"x":1102.6,"y":2},{"x":1102.95,"y":3},{"x":1103.12,"y":8},{"x":1103.33,"y":12},{"x":1103.55,"y":8},{"x":1103.8,"y":4},{"x":1104.1,"y":15},{"x":1104.35,"y":22},{"x":1104.6,"y":15},{"x":1104.87,"y":9},{"x":1105.13,"y":36},{"x":1105.37,"y":52},{"x":1105.62,"y":36},{"x":1105.85,"y":16},{"x":1106.07,"y":52},{"x":1106.31,"y":75},{"x":1106.56,"y":52},{"x":1106.82,"y":18},{"x":1107.09,"y":66},{"x":1107.34,"y":95},{"x":1107.59,"y":66},{"x":1107.85,"y":17},{"x":1108.11,"y":56},{"x":1108.36,"y":80},{"x":1108.61,"y":56},{"x":1108.87,"y":12},{"x":1109.13,"y":27},{"x":1109.38,"y":39},{"x":1109.63,"y":27},{"x":1109.9,"y":6},{"x":1110.15,"y":14},{"x":1110.4,"y":20},{"x":1110.65,"y":13},{"x":1110.95,"y":3},{"x":1111.25,"y":4},{"x":1111.5,"y":5},{"x":1111.8,"y":2},{"x":1112.5,"y":1},{"x":1113.1,"y":2},{"x":1113.76,"y":1}],
"H4":[{"x":1100.26,"y":3},{"x":1100.8,"y":4},{"x":1101.3,"y":3},{"x":1101.8,"y":4},{"x":1102.3,"y":5},{"x":1102.8,"y":4},{"x":1103.3,"y":7},{"x":1103.7,"y":5},{"x":1104.1,"y":10},{"x":1104.35,"y":14},{"x":1104.6,"y":10},{"x":1104.88,"y":7},{"x":1105.13,"y":26},{"x":1105.37,"y":37},{"x":1105.62,"y":26},{"x":1105.85,"y":12},{"x":1106.07,"y":54},{"x":1106.31,"y":78},{"x":1106.56,"y":54},{"x":1106.82,"y":14},{"x":1107.07,"y":66},{"x":1107.32,"y":95},{"x":1107.57,"y":66},{"x":1107.84,"y":13},{"x":1108.11,"y":53},{"x":1108.36,"y":76},{"x":1108.61,"y":53},{"x":1108.87,"y":9},{"x":1109.13,"y":24},{"x":1109.38,"y":35},{"x":1109.63,"y":24},{"x":1109.88,"y":7},{"x":1110.12,"y":15},{"x":1110.36,"y":22},{"x":1110.6,"y":14},{"x":1110.9,"y":4},{"x":1111.2,"y":4},{"x":1111.5,"y":7},{"x":1111.9,"y":3},{"x":1112.3,"y":4},{"x":1112.7,"y":6},{"x":1113.1,"y":4},{"x":1113.4,"y":9},{"x":1113.55,"y":5}]
},
"concat":[
{"width":110,"height":67,"encoding":{"x":{"field":"x","type":"quantitative","scale":{"domain":[856.2,868.56]},"axis":{"values":[857,862,867],"labels":false,"title":null}},"y":{"field":"y","type":"quantitative","scale":{"domain":[0,100]},"axis":{"values":[0,50,100],"labels":false,"title":null}}},"layer":[{"data":{"name":"A1"},"mark":"line"},{"data":{"name":"L"},"transform":[{"filter":"datum.p=='A1'"}],"mark":"text","encoding":{"text":{"field":"t"}}}]},
{"width":110,"height":67,"encoding":{"x":{"field":"x","type":"quantitative","scale":{"domain":[977.2,989.56]},"axis":{"values":[978,983,988],"labels":false,"title":null}},"y":{"field":"y","type":"quantitative","scale":{"domain":[0,100]},"axis":{"values":[0,50,100],"labels":false,"title":null}}},"layer":[{"data":{"name":"B1"},"mark":"line"},{"data":{"name":"L"},"transform":[{"filter":"datum.p=='B1'"}],"mark":"text","encoding":{"text":{"field":"t"}}}]},
{"width":110,"height":67,"encoding":{"x":{"field":"x","type":"quantitative","scale":{"domain":[700.67,712.9]},"axis":{"values":[702,707,712],"labels":false,"title":null}},"y":{"field":"y","type":"quantitative","scale":{"domain":[0,100]},"axis":{"values":[0,50,100],"labels":false,"title":null}}},"layer":[{"data":{"name":"C1"},"mark":"line"},{"data":{"name":"L"},"transform":[{"filter":"datum.p=='C1'"}],"mark":"text","encoding":{"text":{"field":"t"}}}]},
{"width":110,"height":67,"encoding":{"x":{"field":"x","type":"quantitative","scale":{"domain":[1140.7,1153.06]},"axis":{"values":[1142,1147,1152],"labels":false,"title":null}},"y":{"field":"y","type":"quantitative","scale":{"domain":[0,100]},"axis":{"values":[0,50,100],"labels":false,"title":null}}},"layer":[{"data":{"name":"D1"},"mark":"line"},{"data":{"name":"L"},"transform":[{"filter":"datum.p=='D1'"}],"mark":"text","encoding":{"text":{"field":"t"}}}]},
{"width":110,"height":67,"encoding":{"x":{"field":"x","type":"quantitative","scale":{"domain":[915.1,927.19]},"axis":{"values":[916,921,926],"labels":false,"title":null}},"y":{"field":"y","type":"quantitative","scale":{"domain":[0,100]},"axis":{"values":[0,50,100],"labels":false,"title":null}}},"layer":[{"data":{"name":"E1"},"mark":"line"},{"data":{"name":"L"},"transform":[{"filter":"datum.p=='E1'"}],"mark":"text","encoding":{"text":{"field":"t"}}}]},
{"width":110,"height":67,"encoding":{"x":{"field":"x","type":"quantitative","scale":{"domain":[1148.2,1166.3]},"axis":{"values":[1150,1155,1160],"labels":false,"title":null}},"y":{"field":"y","type":"quantitative","scale":{"domain":[0,100]},"axis":{"values":[0,50,100],"labels":false,"title":null}}},"layer":[{"data":{"name":"F1"},"mark":"line"},{"data":{"name":"L"},"transform":[{"filter":"datum.p=='F1'"}],"mark":"text","encoding":{"text":{"field":"t"}}}]},
{"width":110,"height":67,"encoding":{"x":{"field":"x","type":"quantitative","scale":{"domain":[651.0,664.75]},"axis":{"values":[652,657,662],"labels":false,"title":null}},"y":{"field":"y","type":"quantitative","scale":{"domain":[0,100]},"axis":{"values":[0,50,100],"labels":false,"title":null}}},"layer":[{"data":{"name":"G1"},"mark":"line"},{"data":{"name":"L"},"transform":[{"filter":"datum.p=='G1'"}],"mark":"text","encoding":{"text":{"field":"t"}}}]},
{"width":110,"height":67,"encoding":{"x":{"field":"x","type":"quantitative","scale":{"domain":[1100.26,1113.76]},"axis":{"values":[1101,1106,1111],"labels":false,"title":null}},"y":{"field":"y","type":"quantitative","scale":{"domain":[0,100]},"axis":{"values":[0,50,100],"labels":false,"title":null}}},"layer":[{"data":{"name":"H1"},"mark":{"type":"line","interpolate":"monotone"}},{"data":{"name":"L"},"transform":[{"filter":"datum.p=='H1'"}],"mark":{"type":"text","fontSize":11.5},"encoding":{"text":{"field":"t"}}}]},
{"width":110,"height":67,"encoding":{"x":{"field":"x","type":"quantitative","scale":{"domain":[856.2,868.56]},"axis":{"values":[857,862,867],"labels":false,"title":null}},"y":{"field":"y","type":"quantitative","scale":{"domain":[0,100]},"axis":{"values":[0,50,100],"labels":false,"title":null}}},"layer":[{"data":{"name":"A2"},"mark":"line"},{"data":{"name":"L"},"transform":[{"filter":"datum.p=='A2'"}],"mark":"text","encoding":{"text":{"field":"t"}}}]},
{"width":110,"height":67,"encoding":{"x":{"field":"x","type":"quantitative","scale":{"domain":[977.2,989.56]},"axis":{"values":[978,983,988],"labels":false,"title":null}},"y":{"field":"y","type":"quantitative","scale":{"domain":[0,100]},"axis":{"values":[0,50,100],"labels":false,"title":null}}},"layer":[{"data":{"name":"B2"},"mark":"line"},{"data":{"name":"L"},"transform":[{"filter":"datum.p=='B2'"}],"mark":"text","encoding":{"text":{"field":"t"}}}]},
{"width":110,"height":67,"encoding":{"x":{"field":"x","type":"quantitative","scale":{"domain":[700.67,712.9]},"axis":{"values":[702,707,712],"labels":false,"title":null}},"y":{"field":"y","type":"quantitative","scale":{"domain":[0,100]},"axis":{"values":[0,50,100],"labels":false,"title":null}}},"layer":[{"data":{"name":"C2"},"mark":"line"},{"data":{"name":"L"},"transform":[{"filter":"datum.p=='C2'"}],"mark":"text","encoding":{"text":{"field":"t"}}}]},
{"width":110,"height":67,"encoding":{"x":{"field":"x","type":"quantitative","scale":{"domain":[1140.7,1153.06]},"axis":{"values":[1142,1147,1152],"labels":false,"title":null}},"y":{"field":"y","type":"quantitative","scale":{"domain":[0,100]},"axis":{"values":[0,50,100],"labels":false,"title":null}}},"layer":[{"data":{"name":"D2"},"mark":"line"},{"data":{"name":"L"},"transform":[{"filter":"datum.p=='D2'"}],"mark":"text","encoding":{"text":{"field":"t"}}}]},
{"width":110,"height":67,"encoding":{"x":{"field":"x","type":"quantitative","scale":{"domain":[915.1,927.19]},"axis":{"values":[916,921,926],"labels":false,"title":null}},"y":{"field":"y","type":"quantitative","scale":{"domain":[0,100]},"axis":{"values":[0,50,100],"labels":false,"title":null}}},"layer":[{"data":{"name":"E2"},"mark":"line"},{"data":{"name":"L"},"transform":[{"filter":"datum.p=='E2'"}],"mark":"text","encoding":{"text":{"field":"t"}}}]},
{"width":110,"height":67,"encoding":{"x":{"field":"x","type":"quantitative","scale":{"domain":[1148.2,1166.3]},"axis":{"values":[1150,1155,1160],"labels":false,"title":null}},"y":{"field":"y","type":"quantitative","scale":{"domain":[0,100]},"axis":{"values":[0,50,100],"labels":false,"title":null}}},"layer":[{"data":{"name":"F2"},"mark":"line"},{"data":{"name":"L"},"transform":[{"filter":"datum.p=='F2'"}],"mark":"text","encoding":{"text":{"field":"t"}}}]},
{"width":110,"height":67,"encoding":{"x":{"field":"x","type":"quantitative","scale":{"domain":[651.0,664.75]},"axis":{"values":[652,657,662],"labels":false,"title":null}},"y":{"field":"y","type":"quantitative","scale":{"domain":[0,100]},"axis":{"values":[0,50,100],"labels":false,"title":null}}},"layer":[{"data":{"name":"G2"},"mark":"line"},{"data":{"name":"L"},"transform":[{"filter":"datum.p=='G2'"}],"mark":"text","encoding":{"text":{"field":"t"}}}]},
{"width":110,"height":67,"encoding":{"x":{"field":"x","type":"quantitative","scale":{"domain":[1100.26,1113.76]},"axis":{"values":[1101,1106,1111],"labels":false,"title":null}},"y":{"field":"y","type":"quantitative","scale":{"domain":[0,100]},"axis":{"values":[0,50,100],"labels":false,"title":null}}},"layer":[{"data":{"name":"H2"},"mark":{"type":"line","interpolate":"monotone"}},{"data":{"name":"L"},"transform":[{"filter":"datum.p=='H2'"}],"mark":{"type":"text","fontSize":11.5},"encoding":{"text":{"field":"t"}}}]},
{"width":110,"height":67,"encoding":{"x":{"field":"x","type":"quantitative","scale":{"domain":[856.2,868.56]},"axis":{"values":[857,862,867],"labels":false,"title":null}},"y":{"field":"y","type":"quantitative","scale":{"domain":[0,100]},"axis":{"values":[0,50,100],"labels":false,"title":null}}},"layer":[{"data":{"name":"A3"},"mark":"line"},{"data":{"name":"L"},"transform":[{"filter":"datum.p=='A3'"}],"mark":"text","encoding":{"text":{"field":"t"}}}]},
{"width":110,"height":67,"encoding":{"x":{"field":"x","type":"quantitative","scale":{"domain":[977.2,989.56]},"axis":{"values":[978,983,988],"labels":false,"title":null}},"y":{"field":"y","type":"quantitative","scale":{"domain":[0,100]},"axis":{"values":[0,50,100],"labels":false,"title":null}}},"layer":[{"data":{"name":"B3"},"mark":"line"},{"data":{"name":"L"},"transform":[{"filter":"datum.p=='B3'"}],"mark":"text","encoding":{"text":{"field":"t"}}}]},
{"width":110,"height":67,"encoding":{"x":{"field":"x","type":"quantitative","scale":{"domain":[700.67,712.9]},"axis":{"values":[702,707,712],"labels":false,"title":null}},"y":{"field":"y","type":"quantitative","scale":{"domain":[0,100]},"axis":{"values":[0,50,100],"labels":false,"title":null}}},"layer":[{"data":{"name":"C3"},"mark":"line"},{"data":{"name":"L"},"transform":[{"filter":"datum.p=='C3'"}],"mark":"text","encoding":{"text":{"field":"t"}}}]},
{"width":110,"height":67,"encoding":{"x":{"field":"x","type":"quantitative","scale":{"domain":[1140.7,1153.06]},"axis":{"values":[1142,1147,1152],"labels":false,"title":null}},"y":{"field":"y","type":"quantitative","scale":{"domain":[0,100]},"axis":{"values":[0,50,100],"labels":false,"title":null}}},"layer":[{"data":{"name":"D3"},"mark":"line"},{"data":{"name":"L"},"transform":[{"filter":"datum.p=='D3'"}],"mark":"text","encoding":{"text":{"field":"t"}}}]},
{"width":110,"height":67,"encoding":{"x":{"field":"x","type":"quantitative","scale":{"domain":[915.1,927.19]},"axis":{"values":[916,921,926],"labels":false,"title":null}},"y":{"field":"y","type":"quantitative","scale":{"domain":[0,100]},"axis":{"values":[0,50,100],"labels":false,"title":null}}},"layer":[{"data":{"name":"E3"},"mark":"line"},{"data":{"name":"L"},"transform":[{"filter":"datum.p=='E3'"}],"mark":"text","encoding":{"text":{"field":"t"}}}]},
{"width":110,"height":67,"encoding":{"x":{"field":"x","type":"quantitative","scale":{"domain":[1148.2,1166.3]},"axis":{"values":[1150,1155,1160],"labels":false,"title":null}},"y":{"field":"y","type":"quantitative","scale":{"domain":[0,100]},"axis":{"values":[0,50,100],"labels":false,"title":null}}},"layer":[{"data":{"name":"F3"},"mark":"line"},{"data":{"name":"L"},"transform":[{"filter":"datum.p=='F3'"}],"mark":"text","encoding":{"text":{"field":"t"}}}]},
{"width":110,"height":67,"encoding":{"x":{"field":"x","type":"quantitative","scale":{"domain":[651.0,664.75]},"axis":{"values":[652,657,662],"labels":false,"title":null}},"y":{"field":"y","type":"quantitative","scale":{"domain":[0,100]},"axis":{"values":[0,50,100],"labels":false,"title":null}}},"layer":[{"data":{"name":"G3"},"mark":"line"},{"data":{"name":"L"},"transform":[{"filter":"datum.p=='G3'"}],"mark":"text","encoding":{"text":{"field":"t"}}}]},
{"width":110,"height":67,"encoding":{"x":{"field":"x","type":"quantitative","scale":{"domain":[1100.26,1113.76]},"axis":{"values":[1101,1106,1111],"labels":false,"title":null}},"y":{"field":"y","type":"quantitative","scale":{"domain":[0,100]},"axis":{"values":[0,50,100],"labels":false,"title":null}}},"layer":[{"data":{"name":"H3"},"mark":{"type":"line","interpolate":"monotone"}},{"data":{"name":"L"},"transform":[{"filter":"datum.p=='H3'"}],"mark":{"type":"text","fontSize":11.5},"encoding":{"text":{"field":"t"}}}]},
{"width":110,"height":67,"encoding":{"x":{"field":"x","type":"quantitative","scale":{"domain":[856.2,868.56]},"axis":{"values":[857,862,867],"title":"m/z"}},"y":{"field":"y","type":"quantitative","scale":{"domain":[0,100]},"axis":{"values":[0,50,100],"labels":false,"title":null}}},"layer":[{"data":{"name":"A4"},"mark":"line"},{"data":{"name":"L"},"transform":[{"filter":"datum.p=='A4'"}],"mark":"text","encoding":{"text":{"field":"t"}}}]},
{"width":110,"height":67,"encoding":{"x":{"field":"x","type":"quantitative","scale":{"domain":[977.2,989.56]},"axis":{"values":[978,983,988],"title":"m/z"}},"y":{"field":"y","type":"quantitative","scale":{"domain":[0,100]},"axis":{"values":[0,50,100],"labels":false,"title":null}}},"layer":[{"data":{"name":"B4"},"mark":"line"},{"data":{"name":"L"},"transform":[{"filter":"datum.p=='B4'"}],"mark":"text","encoding":{"text":{"field":"t"}}}]},
{"width":110,"height":67,"encoding":{"x":{"field":"x","type":"quantitative","scale":{"domain":[700.67,712.9]},"axis":{"values":[702,707,712],"title":"m/z"}},"y":{"field":"y","type":"quantitative","scale":{"domain":[0,100]},"axis":{"values":[0,50,100],"labels":false,"title":null}}},"layer":[{"data":{"name":"C4"},"mark":"line"},{"data":{"name":"L"},"transform":[{"filter":"datum.p=='C4'"}],"mark":"text","encoding":{"text":{"field":"t"}}}]},
{"width":110,"height":67,"encoding":{"x":{"field":"x","type":"quantitative","scale":{"domain":[1140.7,1153.06]},"axis":{"values":[1142,1147,1152],"title":"m/z"}},"y":{"field":"y","type":"quantitative","scale":{"domain":[0,100]},"axis":{"values":[0,50,100],"labels":false,"title":null}}},"layer":[{"data":{"name":"D4"},"mark":"line"},{"data":{"name":"L"},"transform":[{"filter":"datum.p=='D4'"}],"mark":"text","encoding":{"text":{"field":"t"}}}]},
{"width":110,"height":67,"encoding":{"x":{"field":"x","type":"quantitative","scale":{"domain":[915.1,927.19]},"axis":{"values":[916,921,926],"title":"m/z"}},"y":{"field":"y","type":"quantitative","scale":{"domain":[0,100]},"axis":{"values":[0,50,100],"labels":false,"title":null}}},"layer":[{"data":{"name":"E4"},"mark":"line"},{"data":{"name":"L"},"transform":[{"filter":"datum.p=='E4'"}],"mark":"text","encoding":{"text":{"field":"t"}}}]},
{"width":110,"height":67,"encoding":{"x":{"field":"x","type":"quantitative","scale":{"domain":[1148.2,1166.3]},"axis":{"values":[1150,1155,1160],"title":"m/z"}},"y":{"field":"y","type":"quantitative","scale":{"domain":[0,100]},"axis":{"values":[0,50,100],"labels":false,"title":null}}},"layer":[{"data":{"name":"F4"},"mark":"line"},{"data":{"name":"L"},"transform":[{"filter":"datum.p=='F4'"}],"mark":"text","encoding":{"text":{"field":"t"}}}]},
{"width":110,"height":67,"encoding":{"x":{"field":"x","type":"quantitative","scale":{"domain":[651.0,664.75]},"axis":{"values":[652,657,662],"title":"m/z"}},"y":{"field":"y","type":"quantitative","scale":{"domain":[0,100]},"axis":{"values":[0,50,100],"labels":false,"title":null}}},"layer":[{"data":{"name":"G4"},"mark":"line"},{"data":{"name":"L"},"transform":[{"filter":"datum.p=='G4'"}],"mark":"text","encoding":{"text":{"field":"t"}}}]},
{"width":110,"height":67,"encoding":{"x":{"field":"x","type":"quantitative","scale":{"domain":[1100.26,1113.76]},"axis":{"values":[1101,1106,1111],"title":"m/z"}},"y":{"field":"y","type":"quantitative","scale":{"domain":[0,100]},"axis":{"values":[0,50,100],"labels":false,"title":null}}},"layer":[{"data":{"name":"H4"},"mark":{"type":"line","interpolate":"monotone"}},{"data":{"name":"L"},"transform":[{"filter":"datum.p=='H4'"}],"mark":{"type":"text","fontSize":11.5},"encoding":{"text":{"field":"t"}}}]}
]}
